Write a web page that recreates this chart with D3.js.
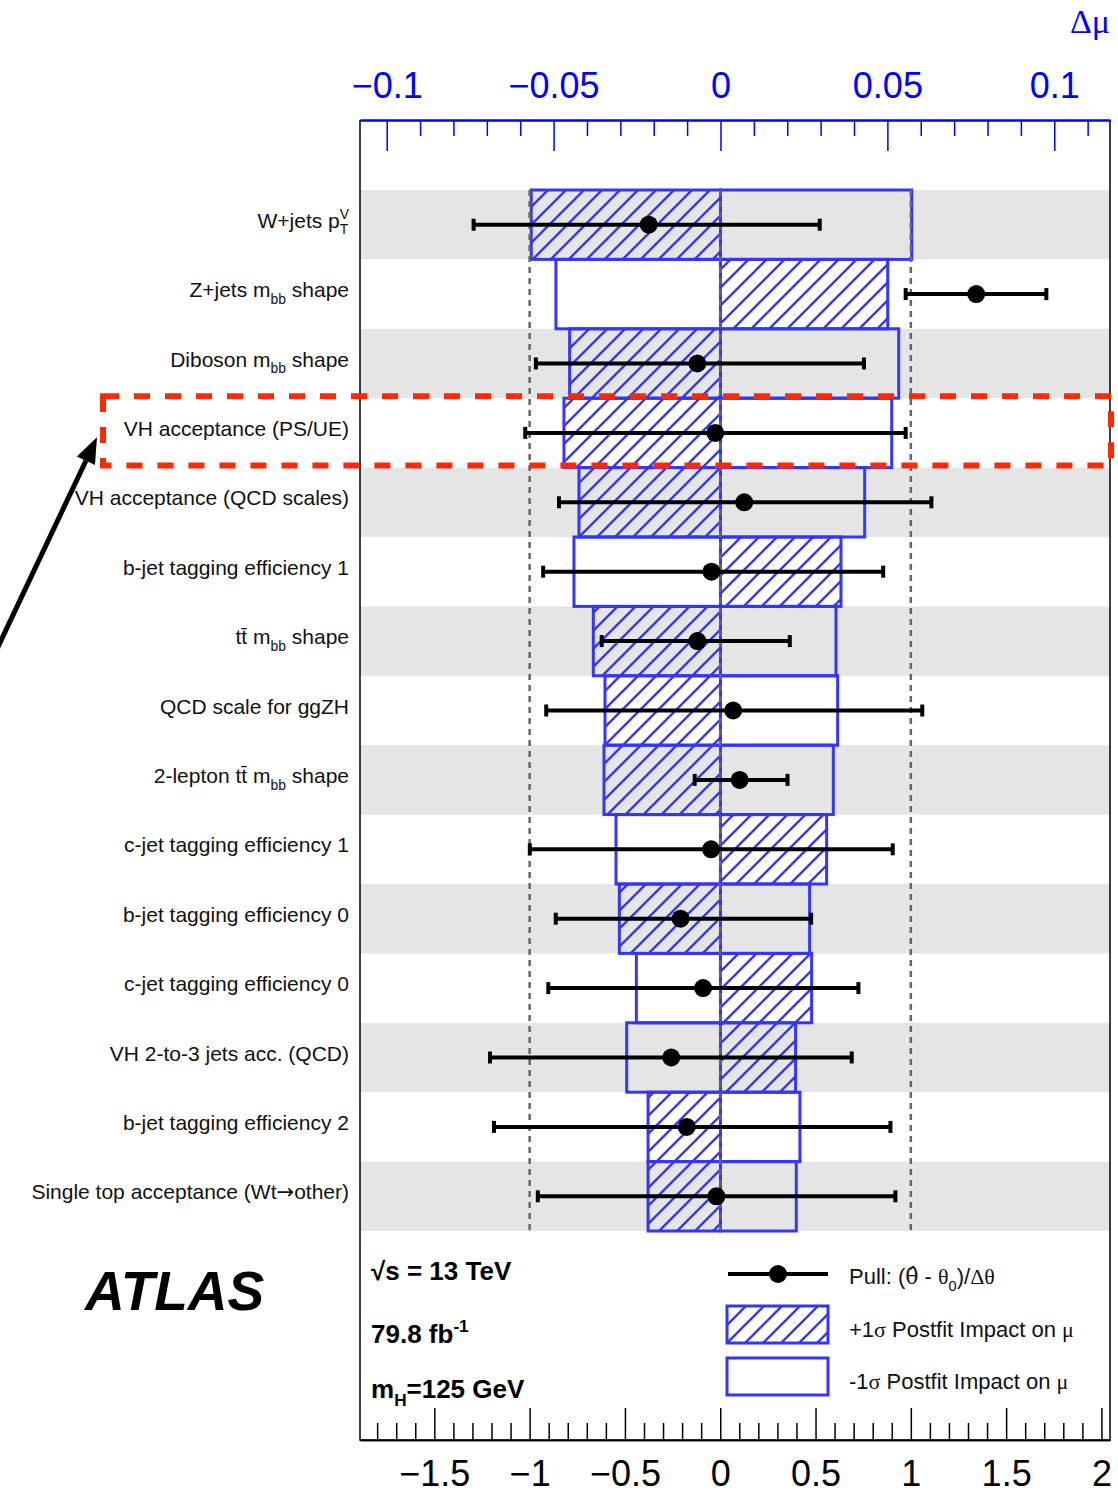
<!DOCTYPE html>
<html>
<head>
<meta charset="utf-8">
<script src="https://cdnjs.cloudflare.com/ajax/libs/d3/7.8.5/d3.min.js"></script>
<style>
body { margin: 0; background: #fff; }
svg { display: block; font-family: "Liberation Sans", Arial, Helvetica, sans-serif; }
</style>
</head>
<body>
<div id="chart"></div>
<script>
// nuisance parameters, top to bottom (TLatex-like markup: _{} sub, ^{} sup)
const params = [
    'W+jets p^{V}_{T}',
    'Z+jets m_{bb} shape',
    'Diboson m_{bb} shape',
    'VH acceptance (PS/UE)',
    'VH acceptance (QCD scales)',
    'b-jet tagging efficiency 1',
    'tt\u0304 m_{bb} shape',
    'QCD scale for ggZH',
    '2-lepton tt\u0304 m_{bb} shape',
    'c-jet tagging efficiency 1',
    'b-jet tagging efficiency 0',
    'c-jet tagging efficiency 0',
    'VH 2-to-3 jets acc. (QCD)',
    'b-jet tagging efficiency 2',
    'Single top acceptance (Wt\u2192other)'
];

// +1 sigma postfit impact on mu (hatched) and -1 sigma (open)
const impactUp   = [-0.0567, 0.0501, -0.0452, -0.0469, -0.0424, 0.0361, -0.0381, -0.0346, -0.0349, 0.0318, -0.0303, 0.0273, 0.0225, -0.0217, -0.0217];
const impactDown = [0.0573, -0.0493, 0.0534, 0.0513, 0.0432, -0.0439, 0.0346, 0.0351, 0.0338, -0.0313, 0.0267, -0.0252, -0.0281, 0.0238, 0.0227];

// pulls and their error bar ends
const pull     = [-0.375, 1.343, -0.120, -0.026, 0.126, -0.046, -0.120, 0.068, 0.102, -0.048, -0.208, -0.090, -0.257, -0.176, -0.020];
const pullLow  = [-1.294, 0.973, -0.967, -1.023, -0.846, -0.929, -0.622, -0.913, -0.134, -0.999, -0.863, -0.902, -1.208, -1.187, -0.957];
const pullHigh = [0.522, 1.711, 0.754, 0.973, 1.108, 0.855, 0.365, 1.060, 0.353, 0.905, 0.477, 0.725, 0.690, 0.893, 0.919];

const pullTicks = [-1.5, -1, -0.5, 0, 0.5, 1, 1.5, 2];
const muTicks = [-0.1, -0.05, 0, 0.05, 0.1];
const pullRefLines = [-1, 0, 1];
const highlighted = 'VH acceptance (PS/UE)';

const blue = '#0000ff';
const boxBlue = '#3535ff';

const frame = { left: 360, right: 1110, top: 120, bottom: 1440 };

const x = d3.scaleLinear().domain([-1.89, 2.045]).range([frame.left, frame.right]);
const xMu = d3.scaleLinear().domain([-0.108, 0.1167]).range([frame.left, frame.right]);
const y = d3.scaleBand().domain(d3.range(params.length)).range([190, 1231]);
const bw = y.bandwidth();

const svg = d3.select('#chart').append('svg')
    .attr('width', 1118)
    .attr('height', 1494);

const defs = svg.append('defs');
defs.append('pattern')
    .attr('id', 'hatch')
    .attr('patternUnits', 'userSpaceOnUse')
    .attr('width', 18)
    .attr('height', 18)
    .append('path')
    .attr('d', 'M-4.5,4.5 l9,-9 M0,18 l18,-18 M13.5,22.5 l9,-9')
    .attr('stroke', boxBlue)
    .attr('stroke-width', 2.4);

// small helper to draw text with sub/superscripts, greek in serif
function richText(sel, str, size) {
    const tokens = str.match(/_\{[^}]*\}|\^\{[^}]*\}|[^_^]+/g);
    let shift = 0, prevSup = null;
    tokens.forEach(tok => {
        let off = 0, body = tok, fs = size;
        const kind = tok[0];
        if (kind === '_' || kind === '^') {
            body = tok.slice(2, -1);
            fs = size * 0.66;
            off = kind === '_' ? size * 0.32 : -size * 0.42;
        }
        const pieces = body.split(/([\u0391-\u03c9]\u0302?|\u2192)/).filter(p => p);
        let last = null;
        pieces.forEach((p, j) => {
            const ts = sel.append('tspan').text(p).style('font-size', fs + 'px');
            if (p === '\u2192') ts.style('font-family', '"DejaVu Sans", sans-serif');
            else if (/\u0302/.test(p)) ts.style('font-family', '"DejaVu Serif", serif');
            else if (/[\u0391-\u03c9]/.test(p)) ts.style('font-family', '"Liberation Serif", "Times New Roman", serif');
            if (j === 0) {
                ts.attr('dy', off - shift);
                if (kind === '_' && prevSup) ts.attr('dx', -prevSup.node().getComputedTextLength());
            }
            last = ts;
        });
        shift = off;
        prevSup = kind === '^' ? last : null;
    });
}

// alternating grey bands
svg.append('g').selectAll('rect')
    .data(params.map((p, i) => i).filter(i => i % 2 === 0))
    .enter().append('rect')
    .attr('x', frame.left)
    .attr('y', i => y(i))
    .attr('width', frame.right - frame.left)
    .attr('height', bw)
    .attr('fill', '#e5e5e5');

// impact boxes
const boxes = svg.append('g');
function impactRect(vals, fill) {
    boxes.selectAll(null)
        .data(vals)
        .enter().append('rect')
        .attr('x', d => Math.min(xMu(0), xMu(d)))
        .attr('y', (d, i) => y(i))
        .attr('width', d => Math.abs(xMu(d) - xMu(0)))
        .attr('height', bw)
        .attr('fill', fill)
        .attr('stroke', boxBlue)
        .attr('stroke-width', 3);
}
impactRect(impactDown, 'none');
impactRect(impactUp, 'url(#hatch)');

// reference lines at pull -1, 0, 1
svg.append('g').selectAll('line')
    .data(pullRefLines)
    .enter().append('line')
    .attr('x1', d => x(d)).attr('x2', d => x(d))
    .attr('y1', y.range()[0]).attr('y2', y.range()[1])
    .attr('stroke', '#666')
    .attr('stroke-width', 2.5)
    .attr('stroke-dasharray', '6,5');

// pulls
const pulls = svg.append('g');
const cy = i => y(i) + bw / 2;
pulls.selectAll('.bar')
    .data(pull)
    .enter().append('line')
    .attr('class', 'bar')
    .attr('x1', (d, i) => x(pullLow[i]))
    .attr('x2', (d, i) => x(pullHigh[i]))
    .attr('y1', (d, i) => cy(i))
    .attr('y2', (d, i) => cy(i))
    .attr('stroke', '#000')
    .attr('stroke-width', 4);
[pullLow, pullHigh].forEach(ends => {
    pulls.selectAll(null)
        .data(ends)
        .enter().append('line')
        .attr('x1', d => x(d)).attr('x2', d => x(d))
        .attr('y1', (d, i) => cy(i) - 6)
        .attr('y2', (d, i) => cy(i) + 6)
        .attr('stroke', '#000')
        .attr('stroke-width', 4);
});
pulls.selectAll('circle')
    .data(pull)
    .enter().append('circle')
    .attr('cx', d => x(d))
    .attr('cy', (d, i) => cy(i))
    .attr('r', 9)
    .attr('fill', '#000');

// frame sides
svg.append('path')
    .attr('d', `M${frame.left},${frame.top}V${frame.bottom}H${frame.right}V${frame.top}`)
    .attr('fill', 'none')
    .attr('stroke', '#000')
    .attr('stroke-width', 1.5);

// top axis (delta mu)
const muMinor = d3.range(-10, 12).filter(i => i % 5 !== 0).map(i => i / 100);
const fmt = d => (d < 0 ? '\u2212' : '') + Math.abs(d);

const topAxis = svg.append('g')
    .attr('transform', `translate(0,${frame.top})`)
    .call(d3.axisTop(xMu).tickValues(muTicks).tickFormat(fmt).tickSizeInner(-31).tickSizeOuter(0).tickPadding(22));
topAxis.append('g')
    .call(d3.axisTop(xMu).tickValues(muMinor).tickFormat('').tickSizeInner(-16).tickSizeOuter(0));
topAxis.selectAll('path.domain').attr('stroke', blue).attr('stroke-width', 2);
topAxis.selectAll('.tick line').attr('stroke', blue).attr('stroke-width', 1.5);
topAxis.selectAll('text')
    .attr('fill', blue)
    .style('font-size', '36px')
    .style('font-family', '"Liberation Sans", Arial, sans-serif');

svg.append('text')
    .attr('x', frame.right)
    .attr('y', 33)
    .attr('text-anchor', 'end')
    .attr('fill', blue)
    .style('font-family', '"Liberation Serif", "Times New Roman", serif')
    .style('font-size', '34px')
    .text('\u0394\u03bc');

// bottom axis (pull)
const pullMinor = d3.range(-18, 21).filter(i => i % 5 !== 0).map(i => i / 10);
const bottomAxis = svg.append('g')
    .attr('transform', `translate(0,${frame.bottom})`)
    .call(d3.axisBottom(x).tickValues(pullTicks).tickFormat(fmt).tickSizeInner(-32).tickSizeOuter(0).tickPadding(20));
bottomAxis.append('g')
    .call(d3.axisBottom(x).tickValues(pullMinor).tickFormat('').tickSizeInner(-17).tickSizeOuter(0));
bottomAxis.selectAll('path.domain').attr('stroke', '#000').attr('stroke-width', 1.5);
bottomAxis.selectAll('.tick line').attr('stroke', '#000').attr('stroke-width', 1.5);
bottomAxis.selectAll('text')
    .attr('fill', '#000')
    .attr('dy', '0.71em')
    .style('font-size', '36px')
    .style('font-family', '"Liberation Sans", Arial, sans-serif');

// parameter labels
params.forEach((p, i) => {
    const t = svg.append('text')
        .attr('x', 349)
        .attr('y', cy(i) + 3)
        .attr('text-anchor', 'end')
        .attr('fill', '#111');
    richText(t, p, 21);
});

// ATLAS block
svg.append('text')
    .attr('x', 85).attr('y', 1310)
    .style('font-size', '55px')
    .style('font-weight', 'bold')
    .style('font-style', 'italic')
    .text('ATLAS');

const infoLines = [
    { str: '\u221as = 13 TeV', yy: 1280 },
    { str: '79.8 fb^{-1}', yy: 1343 },
    { str: 'm_{H}=125 GeV', yy: 1398 }
];
infoLines.forEach(l => {
    const t = svg.append('text')
        .attr('x', 371).attr('y', l.yy)
        .style('font-weight', 'bold');
    richText(t, l.str, 26);
});

// legend
const leg = svg.append('g');
leg.append('line')
    .attr('x1', 728).attr('x2', 828).attr('y1', 1274).attr('y2', 1274)
    .attr('stroke', '#000').attr('stroke-width', 4);
leg.append('circle').attr('cx', 778).attr('cy', 1274).attr('r', 9).attr('fill', '#000');
leg.append('rect')
    .attr('x', 727).attr('y', 1306).attr('width', 101).attr('height', 37)
    .attr('fill', 'url(#hatch)').attr('stroke', boxBlue).attr('stroke-width', 3);
leg.append('rect')
    .attr('x', 727).attr('y', 1358).attr('width', 101).attr('height', 37)
    .attr('fill', 'none').attr('stroke', boxBlue).attr('stroke-width', 3);

const legendTexts = [
    { str: 'Pull: (\u03b8\u0302 - \u03b8_{0})/\u0394\u03b8', yy: 1284 },
    { str: '+1\u03c3 Postfit Impact on \u03bc', yy: 1337 },
    { str: '-1\u03c3 Postfit Impact on \u03bc', yy: 1389 }
];
legendTexts.forEach(l => {
    const t = leg.append('text').attr('x', 849).attr('y', l.yy).attr('fill', '#111');
    richText(t, l.str, 22);
});

// highlight box around one parameter and arrow pointing at it
const hi = params.indexOf(highlighted);
svg.append('rect')
    .attr('x', 103)
    .attr('y', y(hi) - 2)
    .attr('width', 1008)
    .attr('height', bw)
    .attr('fill', 'none')
    .attr('stroke', '#ff2a00')
    .attr('stroke-width', 6)
    .attr('stroke-dasharray', '16,15');

const tip = [97, y(hi) + 39];
const tail = [-5, tip[1] + 216];
const len = Math.hypot(tip[0] - tail[0], tip[1] - tail[1]);
const ux = (tip[0] - tail[0]) / len, uy = (tip[1] - tail[1]) / len;
const base = [tip[0] - 26 * ux, tip[1] - 26 * uy];
svg.append('line')
    .attr('x1', tail[0]).attr('y1', tail[1])
    .attr('x2', base[0]).attr('y2', base[1])
    .attr('stroke', '#000').attr('stroke-width', 5);
svg.append('path')
    .attr('d', `M${tip[0]},${tip[1]}L${base[0] - 10 * uy},${base[1] + 10 * ux}L${base[0] + 10 * uy},${base[1] - 10 * ux}Z`)
    .attr('fill', '#000');
</script>
</body>
</html>
